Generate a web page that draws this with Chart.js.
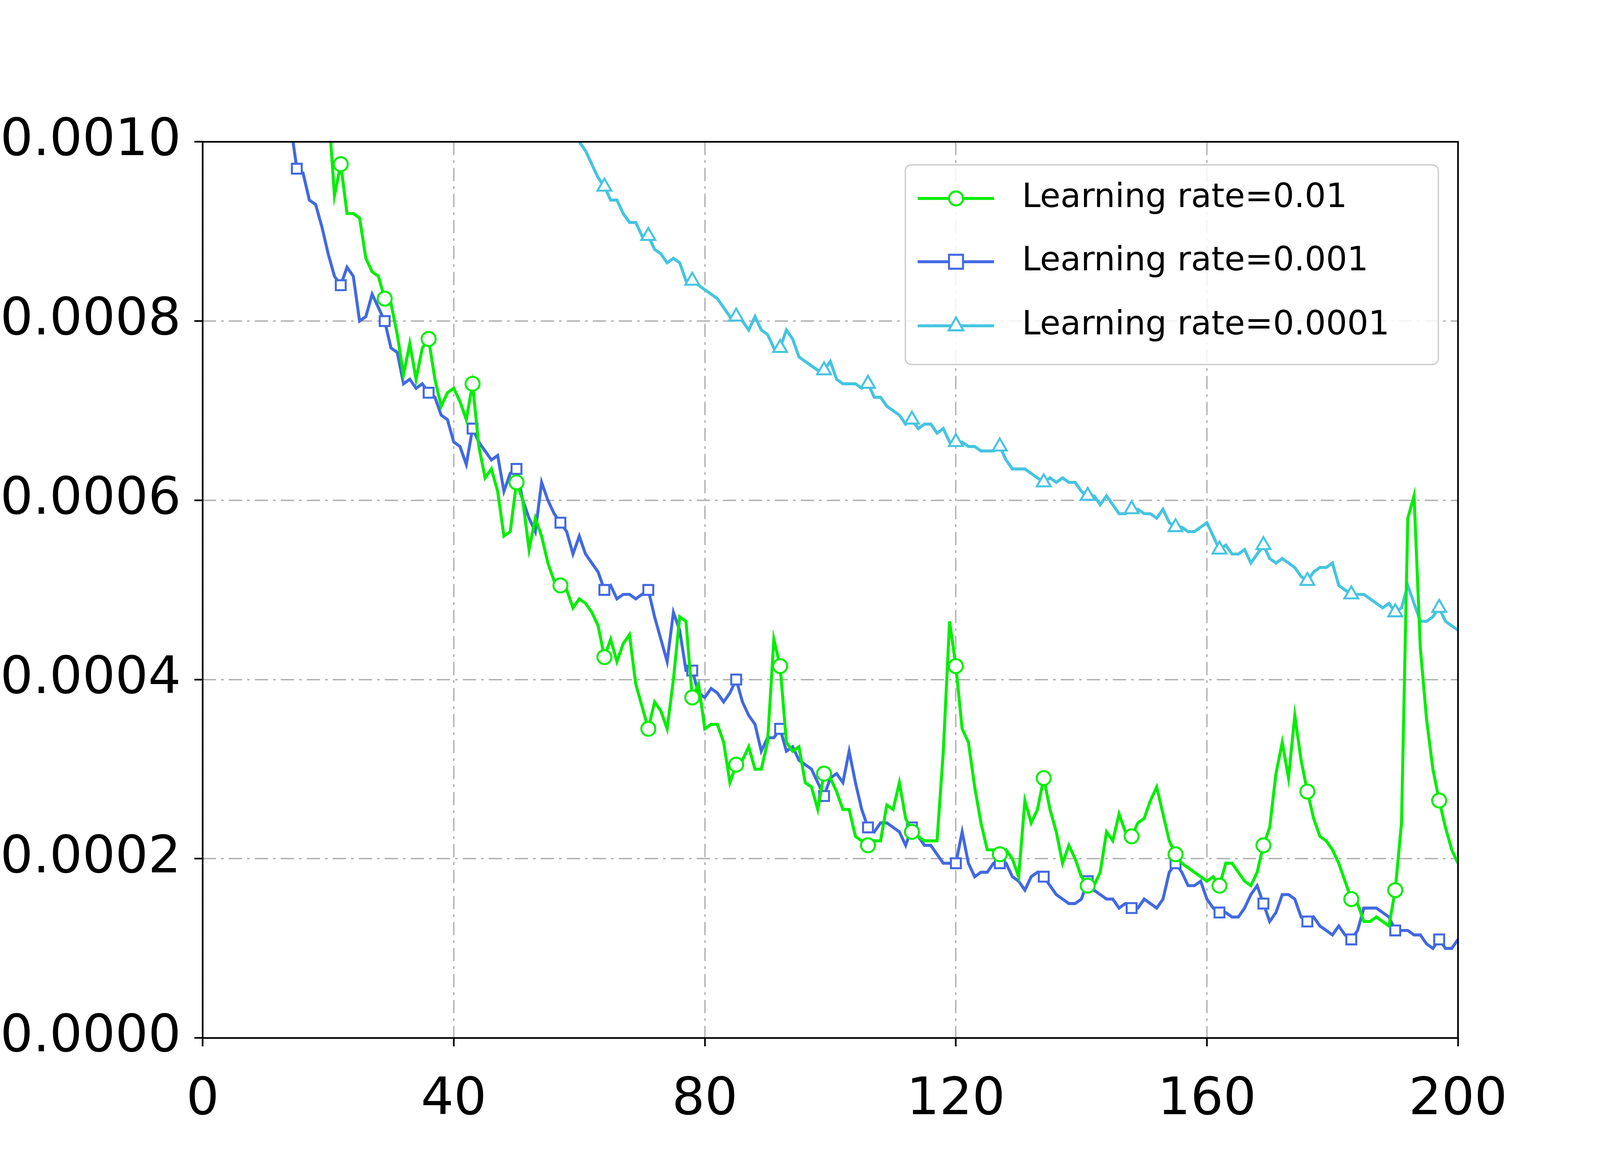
<!DOCTYPE html>
<html lang="en">
<head>
  <meta charset="UTF-8" />
  <title>Learning rate comparison</title>
  <style>
    html, body { margin: 0; padding: 0; background: #ffffff; overflow: hidden; }
    canvas { display: block; }
  </style>
</head>
<body>
  <canvas id="lossChart"></canvas>

  <script src="https://cdn.jsdelivr.net/npm/chart.js"></script>
  <script>
    // values in units of 1e-4, one per epoch, starting at the given epoch
    const greenStart = 19;
    const lr01 = [10.8,10.4,9.4,9.75,9.2,9.2,9.15,8.7,8.55,8.5,8.25,8.2,7.85,7.4,7.75,7.35,7.7,7.8,7.35,7.05,7.2,7.25,7.1,6.9,7.3,6.6,6.25,6.35,6.1,5.6,5.65,6.2,6.0,5.45,5.8,5.6,5.3,5.1,5.05,5.0,4.8,4.9,4.85,4.75,4.6,4.25,4.45,4.2,4.4,4.5,3.95,3.7,3.45,3.75,3.65,3.45,4.0,4.7,4.65,3.8,3.95,3.45,3.5,3.5,3.3,2.85,3.05,3.1,3.25,3.0,3.0,3.3,4.45,4.15,3.3,3.2,3.25,2.85,2.8,2.55,2.95,2.9,2.75,2.55,2.55,2.25,2.2,2.15,2.2,2.2,2.6,2.55,2.85,2.45,2.3,2.25,2.2,2.2,2.2,3.2,4.65,4.15,3.45,3.3,2.8,2.4,2.1,2.1,2.05,2.1,2.0,1.8,2.65,2.4,2.55,2.9,2.55,2.3,1.95,2.15,2.0,1.8,1.7,1.7,1.85,2.3,2.2,2.5,2.3,2.25,2.4,2.45,2.65,2.8,2.5,2.2,2.05,1.95,1.9,1.85,1.8,1.75,1.8,1.7,1.95,1.95,1.85,1.75,1.7,1.85,2.15,2.35,2.95,3.3,2.9,3.6,3.1,2.75,2.45,2.25,2.2,2.1,1.95,1.75,1.55,1.5,1.3,1.3,1.35,1.3,1.25,1.65,2.4,5.8,6.05,4.35,3.55,3.0,2.65,2.35,2.1,1.95];

    const blueStart = 14;
    const lr001 = [10.2,9.7,9.65,9.35,9.3,9.05,8.75,8.5,8.4,8.6,8.5,8.0,8.05,8.3,8.15,8.0,7.7,7.65,7.3,7.35,7.25,7.3,7.2,7.15,6.95,6.9,6.65,6.6,6.4,6.8,6.65,6.55,6.45,6.5,6.1,6.3,6.35,6.0,5.8,5.65,6.2,6.0,5.85,5.75,5.65,5.4,5.6,5.4,5.3,5.2,5.0,5.05,4.9,4.95,4.95,4.9,4.95,5.0,4.7,4.45,4.2,4.75,4.55,4.1,4.1,3.85,3.8,3.9,3.85,3.75,3.85,4.0,3.75,3.6,3.5,3.2,3.35,3.35,3.45,3.2,3.25,3.1,3.05,3.0,2.85,2.7,2.9,2.95,2.85,3.2,2.85,2.55,2.35,2.3,2.4,2.4,2.35,2.3,2.15,2.35,2.25,2.15,2.15,2.05,1.95,1.95,1.95,2.3,1.95,1.8,1.85,1.85,1.95,1.95,1.95,1.8,1.75,1.65,1.8,1.85,1.8,1.7,1.6,1.55,1.5,1.5,1.55,1.75,1.65,1.6,1.55,1.55,1.45,1.5,1.45,1.45,1.55,1.5,1.45,1.55,1.85,1.95,1.85,1.7,1.7,1.75,1.55,1.45,1.4,1.4,1.35,1.35,1.45,1.6,1.7,1.5,1.3,1.4,1.6,1.6,1.55,1.35,1.3,1.35,1.25,1.2,1.15,1.25,1.15,1.1,1.2,1.45,1.45,1.45,1.4,1.35,1.2,1.2,1.2,1.15,1.15,1.05,1.0,1.1,1.0,1.0,1.1];

    const cyanStart = 60;
    const lr0001 = [10.0,9.9,9.75,9.6,9.5,9.35,9.35,9.2,9.1,9.1,8.95,8.95,8.8,8.75,8.65,8.7,8.65,8.45,8.45,8.4,8.35,8.3,8.25,8.15,8.05,8.05,8.0,7.9,8.05,7.9,7.85,7.7,7.7,7.9,7.8,7.6,7.55,7.5,7.45,7.45,7.55,7.35,7.3,7.3,7.3,7.25,7.3,7.15,7.15,7.05,7.0,6.95,6.85,6.9,6.8,6.85,6.85,6.75,6.8,6.65,6.65,6.65,6.6,6.6,6.55,6.55,6.55,6.6,6.45,6.35,6.35,6.35,6.3,6.25,6.2,6.25,6.2,6.25,6.2,6.2,6.1,6.05,6.05,5.95,6.05,5.95,5.85,5.85,5.9,5.9,5.85,5.85,5.8,5.9,5.75,5.7,5.7,5.65,5.65,5.7,5.75,5.6,5.45,5.5,5.4,5.4,5.45,5.3,5.4,5.5,5.35,5.3,5.35,5.3,5.25,5.15,5.1,5.2,5.25,5.25,5.3,5.05,5.0,4.95,4.95,4.95,4.9,4.85,4.8,4.85,4.75,4.8,5.05,4.85,4.65,4.65,4.7,4.8,4.65,4.6,4.55];

    const seriesLabels = ["Learning rate=0.01", "Learning rate=0.001", "Learning rate=0.0001"];
    const seriesColors = ["#00ee00", "#4169e1", "#45c4e0"];
    const seriesMarkers = ["circle", "rect", "triangle"];

    // scale everything to the actual window (designed for 4800x3000)
    const W = window.innerWidth, H = window.innerHeight;
    const sx = W / 4800, sy = H / 3000, s = Math.min(sx, sy);
    const canvas = document.getElementById("lossChart");
    canvas.width = W; canvas.height = H;
    canvas.style.width = W + "px"; canvas.style.height = H + "px";

    function toPoints(start, vals) {
      return vals.map((v, i) => ({ x: start + i, y: v * 1e-4 }));
    }

    const pts = [toPoints(greenStart, lr01), toPoints(blueStart, lr001), toPoints(cyanStart, lr0001)];

    const datasets = pts.map((p, k) => ({
      label: seriesLabels[k],
      data: p,
      borderColor: seriesColors[k],
      pointBorderColor: seriesColors[k],
      pointBackgroundColor: "#ffffff",
      borderWidth: 9 * s,
      pointBorderWidth: 6 * s,
      pointStyle: seriesMarkers[k],
      pointRadius: ctx => (ctx.raw && ctx.raw.x % 7 === 1) ? (k === 2 ? 24 : 21) * s : 0,
      tension: 0
    }));

    const frame = {
      id: "frame",
      afterDraw(chart) {
        const { ctx, chartArea: a } = chart;
        ctx.save();
        ctx.strokeStyle = "#000";
        ctx.lineWidth = 5 * s;
        ctx.strokeRect(a.left, a.top, a.right - a.left, a.bottom - a.top);

        // legend box
        ctx.beginPath();
        ctx.roundRect(2716 * sx, 422 * sy, 1599 * sx, 511 * sy, 18 * s);
        ctx.fillStyle = "rgba(255,255,255,0.85)";
        ctx.fill();
        ctx.strokeStyle = "#cccccc";
        ctx.lineWidth = 4 * s;
        ctx.stroke();
        const rows = [508, 670, 834];
        ctx.font = (100 * s) + "px 'DejaVu Sans'";
        ctx.textBaseline = "middle";
        rows.forEach((ry, k) => {
          const y = ry * sy, cx = 2868 * sx, m = 21 * s;
          ctx.strokeStyle = seriesColors[k];
          ctx.lineWidth = 9 * s;
          ctx.beginPath();
          ctx.moveTo(2753 * sx, y);
          ctx.lineTo(2982 * sx, y);
          ctx.stroke();
          ctx.lineWidth = 6 * s;
          ctx.fillStyle = "#ffffff";
          ctx.beginPath();
          if (k === 0) {
            ctx.arc(cx, y, m, 0, Math.PI * 2);
          } else if (k === 1) {
            ctx.rect(cx - m, y - m, 2 * m, 2 * m);
          } else {
            ctx.moveTo(cx, y - 1.2 * m);
            ctx.lineTo(cx + 1.05 * m, y + 0.65 * m);
            ctx.lineTo(cx - 1.05 * m, y + 0.65 * m);
            ctx.closePath();
          }
          ctx.fill();
          ctx.stroke();
          ctx.fillStyle = "#000";
          ctx.fillText(seriesLabels[k], 3066 * sx, y);
        });
        ctx.restore();
      }
    };

    const gridStyle = {
      color: "#b0b0b0",
      lineWidth: 4 * s,
      tickColor: "#000",
      tickLength: 25 * s,
      tickWidth: 5 * s,
      tickBorderDash: []
    };

    new Chart(canvas, {
      type: "line",
      data: { datasets: datasets },
      plugins: [frame],
      options: {
        responsive: false,
        devicePixelRatio: 1,
        animation: false,
        layout: { padding: { top: 363 * sy, right: 426 * sx, left: 0, bottom: 0 } },
        plugins: { legend: { display: false }, tooltip: { enabled: false } },
        scales: {
          x: {
            type: "linear",
            min: 0, max: 200,
            ticks: { stepSize: 40, color: "#000", font: { family: "DejaVu Sans", size: 155 * s }, padding: 70 * s, maxRotation: 0 },
            grid: Object.assign({}, gridStyle),
            border: { dash: [40 * s, 15 * s, 8 * s, 15 * s], display: false },
            afterFit: sc => { sc.height = 343 * sy; }
          },
          y: {
            min: 0, max: 0.001,
            ticks: {
              stepSize: 0.0002, color: "#000", font: { family: "DejaVu Sans", size: 155 * s }, padding: 40 * s,
              callback: v => v.toFixed(4)
            },
            grid: Object.assign({}, gridStyle),
            border: { dash: [40 * s, 15 * s, 8 * s, 15 * s], display: false },
            afterFit: sc => { sc.width = 608 * sx; }
          }
        }
      }
    });
  </script>
</body>
</html>
